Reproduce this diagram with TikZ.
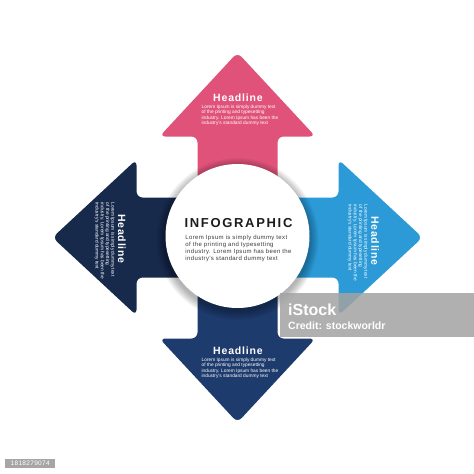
\documentclass[tikz,border=0pt]{standalone}
\usepackage{fontspec}
\setmainfont{Liberation Sans}
\definecolor{pinkA}{HTML}{E0527A}
\definecolor{navyA}{HTML}{172A4C}
\definecolor{blueA}{HTML}{2B9AD7}
\definecolor{navyB}{HTML}{1E3B6D}
\definecolor{inkA}{HTML}{1C1C1C}
\definecolor{inkB}{HTML}{3A3A3A}
\newcommand\arrowtext[3]{%
  \begin{scope}[shift={#2}, rotate=#3, transform shape]
    \node[hd] (#1-h) at (0,0) {Headline};
    \node[bd, anchor=north] (#1-b) at (2,7) {Lorem Ipsum is simply dummy text\\of the printing and typesetting\\industry. Lorem Ipsum has been the\\industry's standard dummy text};
  \end{scope}}
\begin{document}
\begin{tikzpicture}[x=1pt,y=-1pt,
  hd/.style={text=white, inner sep=0pt, font=\fontsize{10.5}{12}\selectfont\bfseries\addfontfeature{LetterSpace=8}},
  bd/.style={text=white, inner sep=0pt, align=left, font=\fontsize{4.8}{5.2}\selectfont},
  arrowfill/.style={rounded corners=6pt}]
\useasboundingbox (0,0) rectangle (474,474);
\fill[white] (0,0) rectangle (474,474);
% arrows
\foreach \ang/\col in {0/pinkA, 90/navyA, 180/navyB, 270/blueA}{
  \fill[\col, arrowfill, shift={(237.5,237.5)}, rotate=\ang]
    (-40,0) -- (-40,-101) -- (-78,-101) -- (0,-185) -- (78,-101) -- (40,-101) -- (40,0) -- cycle;
}
% circle shadow
\foreach \i in {0,...,8}{
  \fill[black, opacity=0.035] (237.5,239) circle (81-\i);
}
\node[circle, fill=white, minimum size=144pt, inner sep=0pt] (hub) at (237.5,236) {};
% centre text
\node[text=inkA, inner sep=0pt, font=\fontsize{13}{14}\selectfont\bfseries\addfontfeature{LetterSpace=13}] (title) at (238.5,223.5) {INFOGRAPHIC};
\node[text=inkB, inner sep=0pt, align=left, anchor=north, font=\fontsize{6}{6.8}\selectfont\addfontfeature{LetterSpace=6}] (intro) at (238.5,235.2) {Lorem Ipsum is simply dummy text\\of the printing and typesetting\\industry. Lorem Ipsum has been the\\industry's standard dummy text};
% arrow texts
\arrowtext{top}{(238,98)}{0}
\arrowtext{bot}{(238,351)}{0}
\arrowtext{lft}{(122,239)}{-90}
\arrowtext{rgt}{(375,241)}{-90}
% watermark
\node[fill=black!36, fill opacity=0.85, minimum width=194pt, minimum height=44pt, inner sep=0pt, anchor=north west] (wm) at (280,293) {};
\node[text=white, inner sep=0pt, anchor=base west, font=\fontsize{16}{18}\selectfont\bfseries] (istock) at (288,315) {iStock};
\node[text=white, inner sep=0pt, anchor=base west, font=\fontsize{10.5}{12}\selectfont\bfseries] (credit) at (288,329) {Credit: stockworldr};
\node[fill=black!35, text=white, inner sep=0pt, minimum width=50pt, minimum height=9pt, font=\fontsize{6.5}{7}\selectfont\addfontfeature{LetterSpace=5}, anchor=west] (imgid) at (5,463) {1818279074};
\end{tikzpicture}
\end{document}
